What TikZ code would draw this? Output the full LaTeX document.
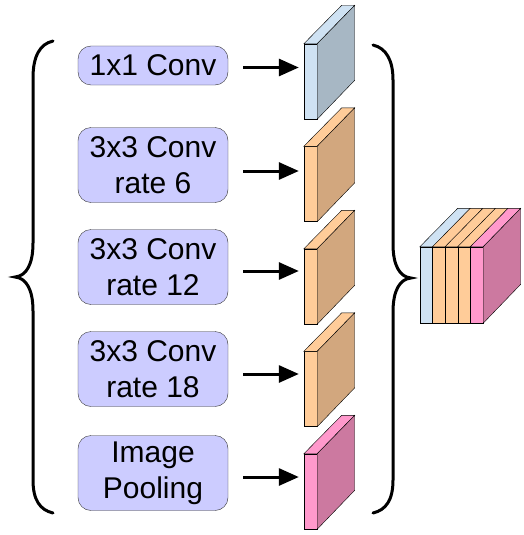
\documentclass[tikz,border=0pt]{standalone}
\usepackage{fontspec}
\setmainfont{Liberation Sans}
\usetikzlibrary{arrows.meta}

\definecolor{boxfill}{HTML}{CCCCFF}
\definecolor{bluefront}{HTML}{CFE2F3}
\definecolor{blueside}{HTML}{A7B7C4}
\definecolor{orangefront}{HTML}{FFCC99}
\definecolor{orangeside}{HTML}{D2A77E}
\definecolor{pinkfront}{HTML}{FF99CC}
\definecolor{pinkside}{HTML}{CC79A0}

\begin{document}
\begin{tikzpicture}[x=1pt,y=-1pt,
        block/.style={rectangle,rounded corners=13pt,draw=black!80,fill=boxfill,
            minimum width=150pt,minimum height=75pt,inner sep=0pt,align=center,
            font=\fontsize{30}{36}\selectfont},
        slab/.style={rectangle,draw,minimum width=13pt,minimum height=75pt,inner sep=0pt},
        layer/.style={rectangle,draw,minimum width=12.6pt,minimum height=76pt,inner sep=0pt},
        arr/.style={-{Triangle[length=20pt,width=17pt]},line width=3pt},
        brace/.style={line width=3pt,line cap=round}]

    \useasboundingbox (0,0) rectangle (524,535);

    % Branches
    \node[block,minimum height=39pt] (b1) at (153,65.5) {1x1 Conv};
    \node[block] (b2) at (153,165) {3x3 Conv\\rate 6};
    \node[block] (b3) at (153,267) {3x3 Conv\\rate 12};
    \node[block] (b4) at (153,369) {3x3 Conv\\rate 18};
    \node[block] (b5) at (153,473) {Image\\Pooling};

    % Feature maps
    \node[slab,fill=bluefront] (s1) at (310.5,81.5) {};
    \node[slab,fill=orangefront] (s2) at (310.5,184) {};
    \node[slab,fill=orangefront] (s3) at (310.5,286.5) {};
    \node[slab,fill=orangefront] (s4) at (310.5,389) {};
    \node[slab,fill=pinkfront] (s5) at (310.5,491.5) {};

    \draw[fill=bluefront] (s1.north west) -- (s1.north east) -- ++(37.5,-38.5) -- ++(-13,0) -- cycle;
    \draw[fill=blueside] (s1.north east) -- ++(37.5,-38.5) -- ++(0,75) -- (s1.south east) -- cycle;
    \draw[fill=orangefront] (s2.north west) -- (s2.north east) -- ++(37.5,-38.5) -- ++(-13,0) -- cycle;
    \draw[fill=orangeside] (s2.north east) -- ++(37.5,-38.5) -- ++(0,75) -- (s2.south east) -- cycle;
    \draw[fill=orangefront] (s3.north west) -- (s3.north east) -- ++(37.5,-38.5) -- ++(-13,0) -- cycle;
    \draw[fill=orangeside] (s3.north east) -- ++(37.5,-38.5) -- ++(0,75) -- (s3.south east) -- cycle;
    \draw[fill=orangefront] (s4.north west) -- (s4.north east) -- ++(37.5,-38.5) -- ++(-13,0) -- cycle;
    \draw[fill=orangeside] (s4.north east) -- ++(37.5,-38.5) -- ++(0,75) -- (s4.south east) -- cycle;
    \draw[fill=pinkfront] (s5.north west) -- (s5.north east) -- ++(37.5,-38.5) -- ++(-13,0) -- cycle;
    \draw[fill=pinkside] (s5.north east) -- ++(37.5,-38.5) -- ++(0,75) -- (s5.south east) -- cycle;

    % Arrows
    \draw[arr] ([xshift=15pt,yshift=-2pt]b1.east) -- ([xshift=-5pt,yshift=-2pt]b1.east -| s1.west);
    \draw[arr] ([xshift=15pt,yshift=-6pt]b2.east) -- ([xshift=-5pt,yshift=-6pt]b2.east -| s2.west);
    \draw[arr] ([xshift=15pt,yshift=-4pt]b3.east) -- ([xshift=-5pt,yshift=-4pt]b3.east -| s3.west);
    \draw[arr] ([xshift=15pt,yshift=-5pt]b4.east) -- ([xshift=-5pt,yshift=-5pt]b4.east -| s4.west);
    \draw[arr] ([xshift=15pt,yshift=-4pt]b5.east) -- ([xshift=-5pt,yshift=-4pt]b5.east -| s5.west);

    % Braces
    \draw[brace] (53,41) .. controls (40,44) and (33,56) .. (33,78) -- (33,243)
        .. controls (33,265) and (26,276) .. (15,277)
        .. controls (26,278) and (33,289) .. (33,311) -- (33,480)
        .. controls (33,500) and (40,510) .. (53,513);
    \draw[brace] (373,45) .. controls (386,48) and (393,60) .. (393,80) -- (393,244)
        .. controls (393,266) and (400,277) .. (411,278)
        .. controls (400,279) and (393,290) .. (393,312) -- (393,480)
        .. controls (393,500) and (386,510) .. (373,513);

    % Concatenation
    \node[layer,fill=bluefront] (c1) at (426.3,285) {};
    \node[layer,fill=orangefront] (c2) at (438.9,285) {};
    \node[layer,fill=orangefront] (c3) at (451.5,285) {};
    \node[layer,fill=orangefront] (c4) at (464.1,285) {};
    \node[layer,fill=pinkfront] (c5) at (476.7,285) {};

    \draw[fill=bluefront] (c1.north west) -- (c1.north east) -- ++(37.5,-38.5) -- ++(-12.6,0) -- cycle;
    \draw[fill=orangefront] (c2.north west) -- (c2.north east) -- ++(37.5,-38.5) -- ++(-12.6,0) -- cycle;
    \draw[fill=orangefront] (c3.north west) -- (c3.north east) -- ++(37.5,-38.5) -- ++(-12.6,0) -- cycle;
    \draw[fill=orangefront] (c4.north west) -- (c4.north east) -- ++(37.5,-38.5) -- ++(-12.6,0) -- cycle;
    \draw[fill=pinkfront] (c5.north west) -- (c5.north east) -- ++(37.5,-38.5) -- ++(-12.6,0) -- cycle;
    \draw[fill=pinkside] (c5.north east) -- ++(37.5,-38.5) -- ++(0,76) -- (c5.south east) -- cycle;
\end{tikzpicture}
\end{document}
